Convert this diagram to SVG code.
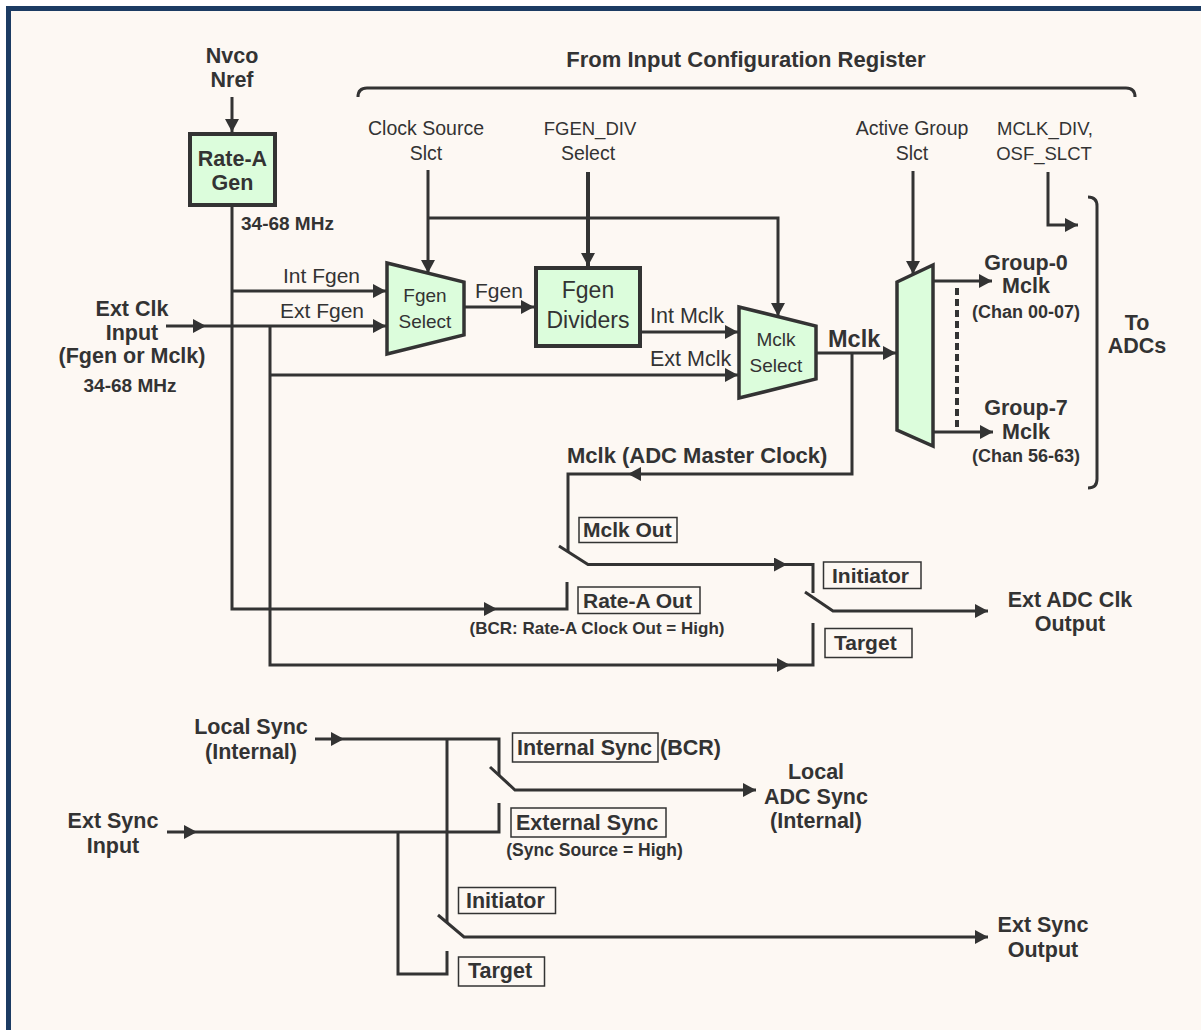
<svg xmlns="http://www.w3.org/2000/svg" width="1201" height="1030" viewBox="0 0 1201 1030">
<defs>
<marker id="ah" markerUnits="userSpaceOnUse" markerWidth="14" markerHeight="14" refX="13" refY="7" orient="auto">
<path d="M0,0 L13,7 L0,14 Z" fill="#333"/>
</marker>
<style>
.ln{fill:none;stroke:#333;stroke-width:3}
.a{marker-end:url(#ah)}
.nd{fill:#dcfddc;stroke:#333;stroke-width:3.5}
.bx{fill:none;stroke:#333;stroke-width:1.5}
text{font-family:"Liberation Sans",Arial,sans-serif;fill:#333;font-weight:bold;font-size:21.5px}
.r{font-weight:normal;font-size:19.5px}
.m{text-anchor:middle}
.s{font-size:17.5px}
</style>
</defs>
<rect x="0" y="0" width="1201" height="1030" fill="#ffffff"/>
<rect x="8" y="8" width="1193" height="1022" fill="#fdf8f3"/>
<path d="M8.5,1030 V8.5 H1201" fill="none" stroke="#1c3b63" stroke-width="5"/>

<g id="connectors">
<path class="ln a" d="M232,97 V132"/>
<path class="ln a" d="M232,207 V609 H497"/>
<path class="ln" d="M497,609 H567 V582"/>
<path class="ln a" d="M232,291 H386"/>
<path class="ln a" d="M166,326 H206"/>
<path class="ln a" d="M206,326 H386"/>
<path class="ln a" d="M270,326 V665 H790"/>
<path class="ln" d="M790,665 H813 V623"/>
<path class="ln a" d="M270,375 H738"/>
<path class="ln a" d="M428,170 V273"/>
<path class="ln a" d="M428,218 H778 V316"/>
<path class="ln a" d="M588,172 V266" style="stroke-width:4"/>
<path class="ln a" d="M464,307 H534"/>
<path class="ln a" d="M642,332 H738"/>
<path class="ln a" d="M816,353 H896"/>
<path class="ln a" d="M852,353 V474 H628"/>
<path class="ln" d="M628,474 H568 V552"/>
<path class="ln a" d="M559,546 L588,564.5 H787"/>
<path class="ln" d="M787,564.5 H813 V593"/>
<path class="ln a" d="M805,592 L833,611 H988"/>
<path class="ln a" d="M913,171 V274"/>
<path class="ln a" d="M933,281 H992"/>
<path class="ln a" d="M933,432 H993"/>
<path class="ln" d="M957,288 V430" style="stroke-width:4;stroke-dasharray:7 4"/>
<path class="ln a" d="M1048,172 V225 H1078"/>
<path class="ln" d="M1088,197 Q1097,197 1097,206 V479 Q1097,488 1088,488"/>
<path class="ln" d="M358,97 Q358,88 367,88 H1126 Q1135,88 1135,97"/>
<path class="ln a" d="M315,739 H344"/>
<path class="ln" d="M344,739 H499 V775"/>
<path class="ln a" d="M490,767 L515,790 H756"/>
<path class="ln" d="M447,739 V922"/>
<path class="ln a" d="M438,915 L464,937 H988"/>
<path class="ln a" d="M167,832 H197"/>
<path class="ln" d="M197,832 H499 V803"/>
<path class="ln" d="M398,832 V974 H447 V951"/>
</g>

<g id="rate-a-gen">
<rect x="190" y="134" width="85" height="71" class="nd" style="stroke-width:4"/>
<text class="m" x="232.5" y="166">Rate-A</text>
<text class="m" x="232.5" y="190">Gen</text>
</g>
<g id="fgen-select">
<polygon class="nd" points="387,263 464,282 464,335 387,354"/>
<text class="r m" x="425" y="302" style="font-size:19px">Fgen</text>
<text class="r m" x="425" y="328" style="font-size:19px">Select</text>
</g>
<g id="fgen-dividers">
<rect x="536" y="268" width="104" height="78" class="nd" style="stroke-width:4"/>
<text class="r m" x="588" y="298" style="font-size:23px">Fgen</text>
<text class="r m" x="588" y="328" style="font-size:23px">Dividers</text>
</g>
<g id="mclk-select">
<polygon class="nd" points="739,307 816,326 816,379 739,398"/>
<text class="r m" x="776" y="346" style="font-size:19px">Mclk</text>
<text class="r m" x="776" y="372" style="font-size:19px">Select</text>
</g>
<g id="group-select">
<polygon class="nd" points="897,282 933,265 933,446 897,430"/>
</g>

<g id="labels">
<text class="m" x="232" y="63">Nvco</text>
<text class="m" x="232" y="87">Nref</text>
<text x="241" y="230" style="font-size:19px">34-68 MHz</text>
<text class="m" x="746" y="67" style="font-size:22px">From Input Configuration Register</text>
<text class="r m" x="426" y="135">Clock Source</text>
<text class="r m" x="426" y="160">Slct</text>
<text class="r m" x="590" y="135" style="font-size:18.5px">FGEN_DIV</text>
<text class="r m" x="588" y="160">Select</text>
<text class="r m" x="912" y="135">Active Group</text>
<text class="r m" x="912" y="160">Slct</text>
<text class="r m" x="1045" y="135" style="font-size:18.5px">MCLK_DIV,</text>
<text class="r m" x="1044" y="160" style="font-size:18.5px">OSF_SLCT</text>
<text class="r" x="283" y="283" style="font-size:21px">Int Fgen</text>
<text class="r" x="280" y="318" style="font-size:21px">Ext Fgen</text>
<text class="r" x="475" y="298" style="font-size:21px">Fgen</text>
<text class="r" x="650" y="323" style="font-size:21.5px">Int Mclk</text>
<text class="r" x="650" y="366" style="font-size:21.5px">Ext Mclk</text>
<text class="m" x="132" y="316">Ext Clk</text>
<text class="m" x="132" y="340">Input</text>
<text class="m" x="132" y="363">(Fgen or Mclk)</text>
<text class="m" x="130" y="392" style="font-size:19px">34-68 MHz</text>
<text x="828" y="347" style="font-size:23.5px">Mclk</text>
<text class="m" x="1026" y="270">Group-0</text>
<text class="m" x="1026" y="293">Mclk</text>
<text class="m" x="1026" y="318" style="font-size:18px">(Chan 00-07)</text>
<text class="m" x="1026" y="415">Group-7</text>
<text class="m" x="1026" y="439">Mclk</text>
<text class="m" x="1026" y="462" style="font-size:18px">(Chan 56-63)</text>
<text class="m" x="1137" y="330">To</text>
<text class="m" x="1137" y="353">ADCs</text>
<text x="567" y="463" style="font-size:22px">Mclk (ADC Master Clock)</text>
<text class="m s" x="597" y="634" style="font-size:17px">(BCR: Rate-A Clock Out = High)</text>
<text class="m" x="1070" y="607">Ext ADC Clk</text>
<text class="m" x="1070" y="631">Output</text>
<text class="m" x="251" y="734">Local Sync</text>
<text class="m" x="251" y="759">(Internal)</text>
<text class="m" x="113" y="828">Ext Sync</text>
<text class="m" x="113" y="853">Input</text>
<text x="660" y="755">(BCR)</text>
<text class="m s" x="594.5" y="856">(Sync Source = High)</text>
<text class="m" x="816" y="779">Local</text>
<text class="m" x="816" y="804">ADC Sync</text>
<text class="m" x="816" y="828">(Internal)</text>
<text class="m" x="1043" y="932">Ext Sync</text>
<text class="m" x="1043" y="957">Output</text>
</g>

<g id="switch-mclk-out">
<rect class="bx" x="579" y="517.5" width="98" height="25"/>
<text x="583" y="537" style="font-size:21px">Mclk Out</text>
</g>
<g id="switch-rate-a-out">
<rect class="bx" x="578" y="587" width="122" height="26.5"/>
<text x="583" y="608" style="font-size:21px">Rate-A Out</text>
</g>
<g id="switch-initiator-clk">
<rect class="bx" x="823.5" y="562" width="97.5" height="26.5"/>
<text x="832" y="583" style="font-size:21px">Initiator</text>
</g>
<g id="switch-target-clk">
<rect class="bx" x="825" y="628.5" width="87" height="29"/>
<text x="834" y="650" style="font-size:21px">Target</text>
</g>
<g id="switch-internal-sync">
<rect class="bx" x="512.5" y="733" width="145.5" height="29"/>
<text x="517" y="755">Internal Sync</text>
</g>
<g id="switch-external-sync">
<rect class="bx" x="511" y="808" width="155" height="29"/>
<text x="516" y="830">External Sync</text>
</g>
<g id="switch-initiator-sync">
<rect class="bx" x="458.5" y="887.5" width="97" height="26"/>
<text x="466" y="908">Initiator</text>
</g>
<g id="switch-target-sync">
<rect class="bx" x="458.5" y="957" width="86" height="29"/>
<text x="468" y="978">Target</text>
</g>
</svg>
